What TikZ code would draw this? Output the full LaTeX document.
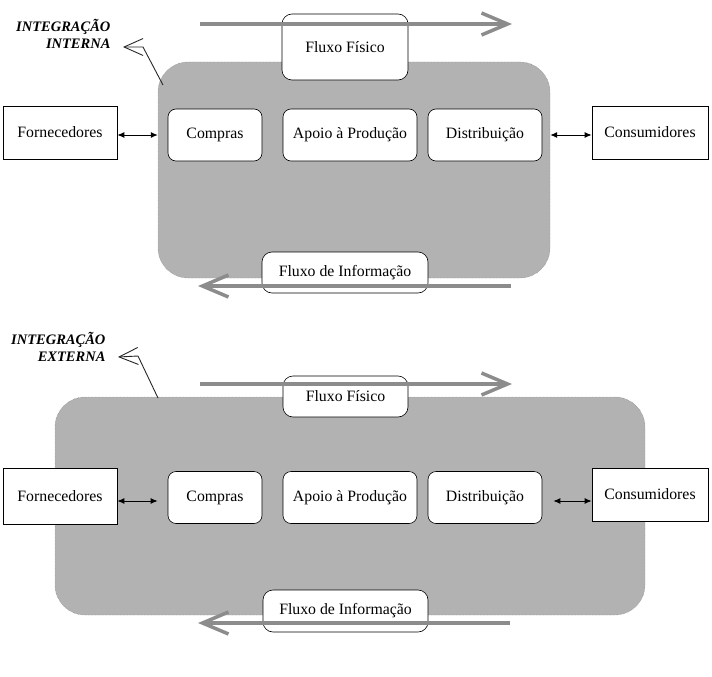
\documentclass[tikz,border=0pt]{standalone}
\usepackage{fontspec}
\setmainfont{Liberation Serif}
\usetikzlibrary{arrows.meta}

\begin{document}
\begin{tikzpicture}[x=1pt,y=-1pt]
    \tikzset{
  panel/.style={
         rectangle,
         rounded corners=30pt,
         draw=black!55, densely dotted,
         fill=black!30,
         inner sep=0,
         },
  party/.style={
         rectangle,
         draw=black, semithick,
         fill=white,
         inner sep=0,
         text centered,
         font=\fontsize{15.8}{19}\selectfont,
         },
  stage/.style={
         party,
         rounded corners=8pt,
         minimum height=52pt,
         },
  flux/.style={
         party,
         rounded corners=10pt,
         },
  tag/.style={
         align=right,
         anchor=east,
         font=\fontsize{14.5}{17}\selectfont\bfseries\itshape,
         },
  flow/.style={
         draw=black!45, line width=3.5pt,
         -{Straight Barb[length=26pt,width=22pt]},
         },
  link/.style={
         line width=1pt,
         {Latex[length=7pt,width=6pt]}-{Latex[length=7pt,width=6pt]},
         },
  pointer/.style={
         draw=black!85, line width=0.9pt,
         -{Straight Barb[length=19pt,width=17pt,line join=miter]},
         },
}
    \useasboundingbox (0,0) rectangle (712,677);

    \node[panel, minimum width=392pt, minimum height=216pt] (box1) at (354,170) {};

    \node[tag] (intern1) at (114,34) {INTEGRAÇÃO\\INTERNA};

    \node[party, minimum width=114pt, minimum height=53pt] (forn1) at (60,132.5) {Fornecedores};
    \node[stage, minimum width=94pt] (comp1) at (215,135) {Compras};
    \node[stage, minimum width=134pt] (apoio1) at (350,135) {Apoio à Produção};
    \node[stage, minimum width=114pt] (dist1) at (485,135) {Distribuição};
    \node[party, minimum width=116pt, minimum height=53pt] (cons1) at (650,132.5) {Consumidores};

    \node[flux, minimum width=126pt, minimum height=66pt] (ffis1) at (345,47) {Fluxo Físico};
    \node[flux, minimum width=166pt, minimum height=41pt] (finf1) at (345,272.5) {Fluxo de Informação};

    \coordinate (fs1) at (200,24);
    \coordinate (fe1) at (512,24);
    \coordinate (is1) at (511,286);
    \coordinate (ie1) at (198,286);
    \draw[flow] (fs1) -- (fe1);
    \draw[flow] (is1) -- (ie1);

    \draw[link] (forn1.east |- comp1.west) -- (box1.west |- comp1.west);
    \draw[link] (box1.east |- dist1.east) -- (cons1.west |- dist1.east);

    \coordinate (kink1) at (143,47);
    \coordinate (tip1) at (123,47);
    \draw[pointer] (163,85) -- (kink1) -- (tip1);

    \node[panel, minimum width=590pt, minimum height=218pt] (box2) at (350,506) {};

    \node[tag] (extern2) at (109,347) {INTEGRAÇÃO\\EXTERNA};

    \node[party, minimum width=114pt, minimum height=56pt] (forn2) at (60,496) {Fornecedores};
    \node[stage, minimum width=94pt] (comp2) at (215,497.5) {Compras};
    \node[stage, minimum width=134pt] (apoio2) at (350,497.5) {Apoio à Produção};
    \node[stage, minimum width=114pt] (dist2) at (485,497.5) {Distribuição};
    \node[party, minimum width=116pt, minimum height=53pt] (cons2) at (650,494.5) {Consumidores};

    \node[flux, minimum width=125pt, minimum height=41pt] (ffis2) at (345.5,396.5) {Fluxo Físico};
    \node[flux, minimum width=165pt, minimum height=42pt] (finf2) at (345.5,611) {Fluxo de Informação};

    \coordinate (fs2) at (200,384);
    \coordinate (fe2) at (512,384);
    \coordinate (is2) at (510,623);
    \coordinate (ie2) at (198,623);
    \draw[flow] (fs2) -- (fe2);
    \draw[flow] (is2) -- (ie2);

    \draw[link] (forn2.east |- 0,501) -- ([xshift=-10pt]comp2.west |- 0,501);
    \draw[link] ([xshift=11pt]dist2.east |- 0,501) -- (cons2.west |- 0,501);

    \coordinate (kink2) at (138,356);
    \coordinate (tip2) at (118,357);
    \draw[pointer] (158,398) -- (kink2) -- (tip2);

\end{tikzpicture}
\end{document}
